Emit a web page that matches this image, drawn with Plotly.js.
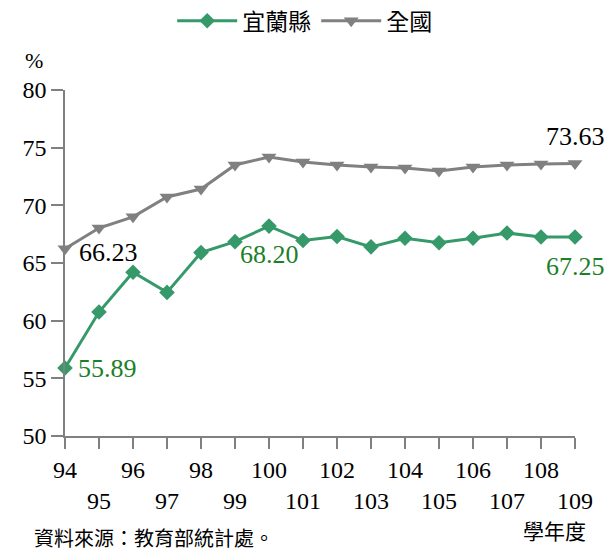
<!DOCTYPE html>
<html>
<head>
<meta charset="utf-8">
<script src="https://cdn.plot.ly/plotly-3.0.1.min.js"></script>
</head>
<body style="margin:0">
<div id="chart"></div>
<script>
const years = [94,95,96,97,98,99,100,101,102,103,104,105,106,107,108,109];
const yilan = [55.89,60.75,64.20,62.45,65.90,66.85,68.20,66.95,67.30,66.40,67.15,66.75,67.15,67.60,67.25,67.25];
const national = [66.23,68.03,69.00,70.72,71.41,73.50,74.19,73.76,73.50,73.32,73.24,72.97,73.32,73.50,73.58,73.63];
const tickLabels = years.map(y => (y % 2 === 0 ? String(y) : '<br>' + y));
const seriesNames = ['宜蘭縣', '全國'];

const SERIF_FONT = "'Liberation Serif', 'Noto Sans CJK TC', serif";
const CJK_FONT = "'Noto Sans CJK TC', sans-serif";
const green = '#36996a';
const gray = '#808080';
const labelGreen = '#1d7f2a';

const traces = [
  {x: years, y: yilan, name: seriesNames[0], type: 'scatter', mode: 'lines+markers',
   line: {color: green, width: 3}, marker: {symbol: 'diamond', size: 12, color: green}, cliponaxis: false},
  {x: years, y: national, name: seriesNames[1], type: 'scatter', mode: 'lines+markers',
   line: {color: gray, width: 3}, marker: {symbol: 'triangle-down', size: 13, color: gray}, cliponaxis: false}
];

const lastI = years.length - 1;
const annotations = [
  {x: years[0], y: national[0], text: national[0].toFixed(2), showarrow: false, xanchor: 'left', xshift: 12, yshift: -4, font: {family: SERIF_FONT, size: 26, color: '#000'}},
  {x: years[0], y: yilan[0], text: yilan[0].toFixed(2), showarrow: false, xanchor: 'left', xshift: 11, yshift: 0, font: {family: SERIF_FONT, size: 26, color: labelGreen}},
  {x: years[6], y: yilan[6], text: yilan[6].toFixed(2), showarrow: false, xanchor: 'center', yshift: -28, font: {family: SERIF_FONT, size: 26, color: labelGreen}},
  {x: years[lastI], y: national[lastI], text: national[lastI].toFixed(2), showarrow: false, xanchor: 'center', yshift: 27, font: {family: SERIF_FONT, size: 26, color: '#000'}},
  {x: years[lastI], y: yilan[lastI], text: yilan[lastI].toFixed(2), showarrow: false, xanchor: 'center', yshift: -29, font: {family: SERIF_FONT, size: 26, color: labelGreen}},
  {xref: 'paper', yref: 'paper', x: -0.06, y: 1.085, text: '%', showarrow: false, xanchor: 'center', yanchor: 'middle', font: {family: SERIF_FONT, size: 22, color: '#000'}},
  {xref: 'paper', yref: 'paper', x: 1.025, y: -0.272, text: '學年度', showarrow: false, xanchor: 'right', yanchor: 'middle', font: {family: CJK_FONT, size: 21, color: '#000'}},
  {xref: 'paper', yref: 'paper', x: -0.065, y: -0.293, text: '資料來源：教育部統計處。', showarrow: false, xanchor: 'left', yanchor: 'middle', font: {family: CJK_FONT, size: 20, color: '#000'}}
];

const layout = {
  width: 612, height: 552,
  font: {family: SERIF_FONT, color: '#000'},
  margin: {l: 65, r: 37, t: 90, b: 116, autoexpand: false},
  paper_bgcolor: '#fff', plot_bgcolor: '#fff',
  showlegend: true,
  legend: {orientation: 'h', x: 0.47, xanchor: 'center', y: 1.2, yanchor: 'middle',
           font: {family: CJK_FONT, size: 23, color: '#000'}, itemwidth: 60, bgcolor: 'rgba(0,0,0,0)'},
  xaxis: {range: [94, 109], tickvals: years, ticktext: tickLabels, showgrid: false, zeroline: false,
          showline: true, linecolor: gray, linewidth: 1.5, ticks: 'outside', ticklen: 11, tickcolor: gray, tickwidth: 1.5,
          tickfont: {family: SERIF_FONT, size: 24, color: '#000'}, tickangle: 0, fixedrange: true},
  yaxis: {range: [50, 80], tickvals: [50,55,60,65,70,75,80], showgrid: false, zeroline: false,
          showline: true, linecolor: gray, linewidth: 1.5, ticks: 'outside', ticklen: 12, tickcolor: gray, tickwidth: 1.5,
          tickfont: {family: SERIF_FONT, size: 24, color: '#000'}, fixedrange: true},
  annotations: annotations
};

Plotly.newPlot('chart', traces, layout, {displayModeBar: false});
</script>
</body>
</html>
